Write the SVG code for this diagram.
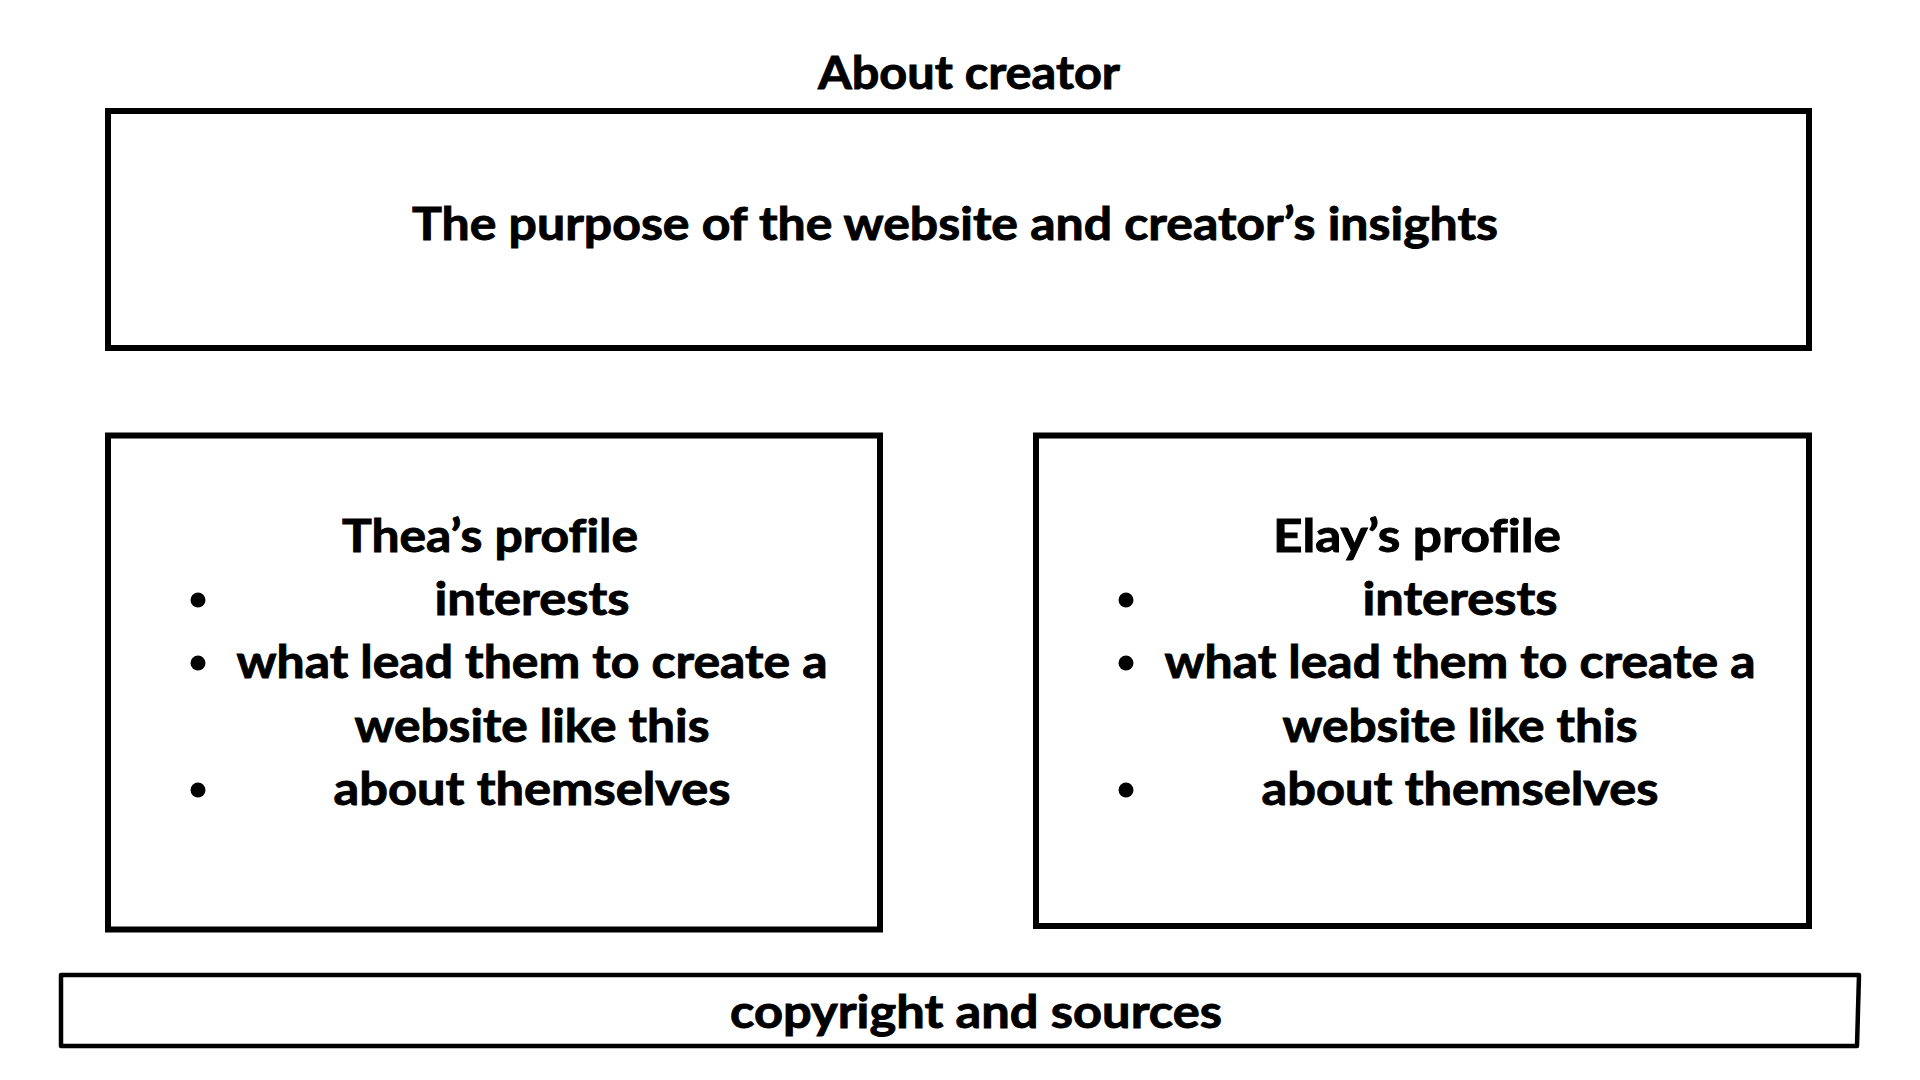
<svg xmlns="http://www.w3.org/2000/svg" width="1920" height="1080" viewBox="0 0 1920 1080">
  <style>
    .box { fill: #ffffff; stroke: #000000; stroke-width: 6; }
    .thin { fill: #ffffff; stroke: #000000; stroke-width: 4.5; stroke-linejoin: round; }
    .t { font-family: Lato, "Open Sans", "Noto Sans", sans-serif; font-weight: 700; font-size: 45px; fill: #000000; stroke: #000000; stroke-width: 0.9; text-anchor: middle; font-variant-ligatures: none; font-feature-settings: "liga" 0; }
    .dot { fill: #000000; }
  </style>
  <rect width="1920" height="1080" fill="#ffffff"/>

  <g id="title">
    <text class="t" x="969" y="89" textLength="302" lengthAdjust="spacingAndGlyphs">About creator</text>
  </g>

  <g id="purpose">
    <rect class="box" x="108" y="111" width="1701" height="237"/>
    <text class="t" x="955" y="240" textLength="1086" lengthAdjust="spacingAndGlyphs">The purpose of the website and creator’s insights</text>
  </g>

  <g id="thea-profile">
    <rect class="box" x="108" y="435.5" width="772" height="494"/>
    <text class="t" x="490" y="552" textLength="296" lengthAdjust="spacingAndGlyphs">Thea’s profile</text>
    <circle class="dot" cx="198" cy="600" r="7.5"/>
    <text class="t" x="532" y="615" textLength="195" lengthAdjust="spacingAndGlyphs">interests</text>
    <circle class="dot" cx="198" cy="663" r="7.5"/>
    <text class="t" x="532" y="678" textLength="591" lengthAdjust="spacingAndGlyphs">what lead them to create a</text>
    <text class="t" x="532" y="742" textLength="355" lengthAdjust="spacingAndGlyphs">website like this</text>
    <circle class="dot" cx="198" cy="790" r="7.5"/>
    <text class="t" x="532" y="805" textLength="397" lengthAdjust="spacingAndGlyphs">about themselves</text>
  </g>

  <g id="elay-profile">
    <rect class="box" x="1036" y="435.5" width="773" height="490.5"/>
    <text class="t" x="1417" y="552" textLength="288" lengthAdjust="spacingAndGlyphs">Elay’s profile</text>
    <circle class="dot" cx="1126" cy="600" r="7.5"/>
    <text class="t" x="1460" y="615" textLength="195" lengthAdjust="spacingAndGlyphs">interests</text>
    <circle class="dot" cx="1126" cy="663" r="7.5"/>
    <text class="t" x="1460" y="678" textLength="591" lengthAdjust="spacingAndGlyphs">what lead them to create a</text>
    <text class="t" x="1460" y="742" textLength="355" lengthAdjust="spacingAndGlyphs">website like this</text>
    <circle class="dot" cx="1126" cy="790" r="7.5"/>
    <text class="t" x="1460" y="805" textLength="397" lengthAdjust="spacingAndGlyphs">about themselves</text>
  </g>

  <g id="footer">
    <path class="thin" d="M61 975 L1859 975 L1857 1046 L61 1046 Z"/>
    <text class="t" x="976" y="1028" textLength="492" lengthAdjust="spacingAndGlyphs">copyright and sources</text>
  </g>

  <g id="connectors"></g>
</svg>
